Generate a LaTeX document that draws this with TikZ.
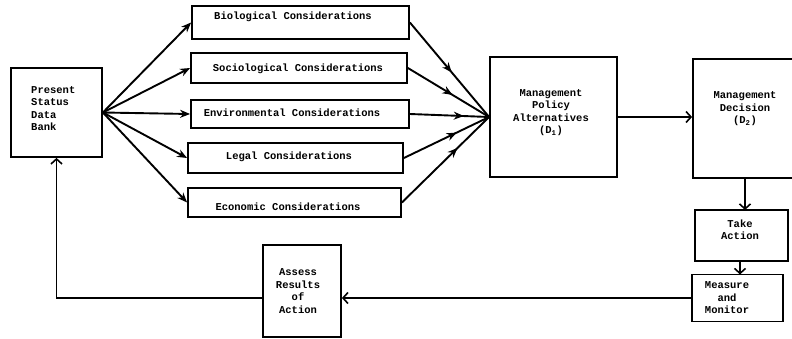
\documentclass[tikz,border=0pt]{standalone}
\usepackage{fontspec}
\setmonofont{Liberation Mono}
\usetikzlibrary{arrows.meta,decorations.markings}

\tikzset{
  box/.style={draw, line width=1.8pt, rectangle, inner sep=0pt},
  txt/.style={font=\ttfamily\bfseries\fontsize{10.5}{12.5}\selectfont, align=center, inner sep=0pt},
  link/.style={line width=1.9pt},
  tipopen/.style={-{Straight Barb[length=5pt,width=11pt,line width=1.6pt]}},
  tipfill/.style={-{Stealth[length=10pt,width=8pt]}},
  midarrow/.style={decoration={markings,
      mark=at position #1 with {\arrow{Stealth[length=10pt,width=8pt]}}},
      postaction=decorate},
  midarrow/.default=0.6
}

\begin{document}
\begin{tikzpicture}[x=1pt,y=-1pt]
  \clip (0,0) rectangle (792,339);
  \fill[white] (0,0) rectangle (792,339);

  % data bank
  \node[box, minimum width=91pt, minimum height=89pt] (ps) at (56.5,112.5) {};
  \node[txt, align=left, anchor=west] (pstxt) at (31,108.5) {Present\\Status\\Data\\Bank};

  % considerations
  \node[box, minimum width=217pt, minimum height=33pt] (bio) at (300.5,22.5) {};
  \node[txt] (biotxt) at (293,17) {Biological Considerations};
  \node[box, minimum width=216pt, minimum height=30pt] (soc) at (299,68) {};
  \node[txt] (soctxt) at (298,69) {Sociological Considerations};
  \node[box, minimum width=218pt, minimum height=28pt] (env) at (300,114) {};
  \node[txt] (envtxt) at (292,113) {Environmental Considerations};
  \node[box, minimum width=215pt, minimum height=30pt] (leg) at (295.5,158) {};
  \node[txt] (legtxt) at (289,157) {Legal Considerations};
  \node[box, minimum width=213pt, minimum height=29pt] (eco) at (294.5,202.5) {};
  \node[txt] (ecotxt) at (288,207) {Economic Considerations};

  % decision boxes
  \node[box, minimum width=127pt, minimum height=120pt] (mpa) at (553.5,117) {};
  \node[txt] (mpatxt) at (551,112.5) {Management\\Policy\\Alternatives\\(D\textsubscript{1})};
  \node[box, minimum width=104pt, minimum height=119pt] (md) at (745,118.5) {};
  \node[txt] (mdtxt) at (745,109) {Management\\Decision\\(D\textsubscript{2})};

  % action loop
  \node[box, minimum width=93pt, minimum height=51pt] (ta) at (741.5,235.5) {};
  \node[txt] (tatxt) at (740,229.5) {Take\\Action};
  \node[box, minimum width=91pt, minimum height=47pt] (mm) at (737.5,298) {};
  \node[txt] (mmtxt) at (727,298) {Measure\\and\\Monitor};
  \node[box, minimum width=78pt, minimum height=92pt] (as) at (302,291) {};
  \node[txt] (astxt) at (298,291) {Assess\\Results\\of\\Action};

  % fan-out from the data bank
  \foreach \c in {bio,soc,env,leg,eco}
    \draw[link, tipfill] (ps.east) -- (\c.west);

  % fan-in to the policy alternatives
  \draw[link, midarrow=0.53] (bio.east) -- (mpa.west);
  \draw[link, midarrow=0.55] (soc.east) -- (mpa.west);
  \draw[link, midarrow=0.68] (env.east) -- (mpa.west);
  \draw[link, midarrow=0.62] (leg.east) -- (mpa.west);
  \draw[link, midarrow=0.64] (eco.east) -- (mpa.west);

  % decision chain
  \draw[link, tipopen] (mpa.east) -- (mpa.east -| md.west);
  \draw[link, tipopen] (745,178) -- (745,210);
  \draw[link, tipopen] (740,261) -- (740,274.5);
  \draw[link, tipopen] (mm.west) -- (mm.west -| as.east);
  \draw[link, tipopen] (as.west |- mm.west) -| (ps.south);
\end{tikzpicture}
\end{document}
